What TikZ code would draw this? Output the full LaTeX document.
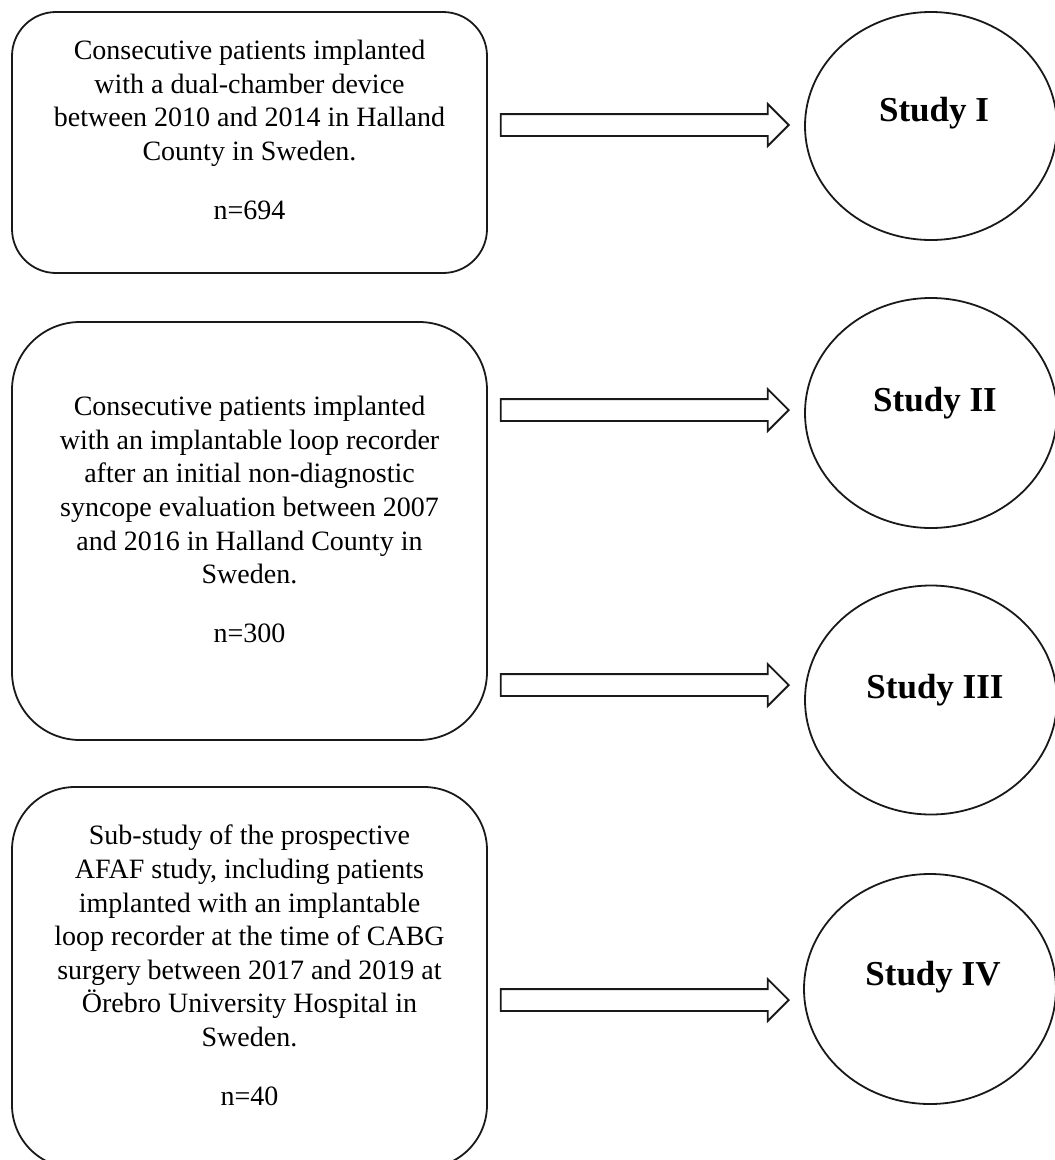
\documentclass[tikz,border=0pt]{standalone}
\usepackage{fontspec}
\setmainfont{Liberation Serif}
\usetikzlibrary{shapes.geometric,shapes.arrows}

\tikzset{
  cohort/.style={draw=black!90, line width=1.8pt, rectangle, inner sep=0pt,
                 minimum width=475pt},
  cohorttext/.style={anchor=north, inner sep=0pt, align=center,
                     font=\fontsize{28}{33.6}\selectfont},
  studybox/.style={draw=black!90, line width=1.8pt, ellipse, inner sep=0pt,
                   minimum width=252pt},
  studylabel/.style={inner sep=0pt, font=\fontsize{35}{40}\selectfont\bfseries},
  blockarrow/.style={draw=black!90, line width=1.8pt, fill=white, single arrow,
                     single arrow head extend=10pt, inner sep=10pt,
                     minimum width=40pt, minimum height=288pt, anchor=tip}
}

\begin{document}
\begin{tikzpicture}[x=1pt, y=-1pt]
  \useasboundingbox (0,0) rectangle (1055,1160);
  \clip (0,0) rectangle (1055,1160);

  % cohort boxes
  \node[cohort, rounded corners=44pt, minimum height=261pt] (c1) at (249.5,142.5) {};
  \node[cohort, rounded corners=68pt, minimum height=418pt] (c2) at (249.5,531) {};
  \node[cohort, rounded corners=63pt, minimum height=381pt] (c3) at (249.5,977.5) {};

  \node[cohorttext] (t1) at (249.5,40) {Consecutive patients implanted\\
    with a dual-chamber device\\
    between 2010 and 2014 in Halland\\
    County in Sweden.\\[25pt]
    n=694};
  \node[cohorttext] (t2) at (249.5,396) {Consecutive patients implanted\\
    with an implantable loop recorder\\
    after an initial non-diagnostic\\
    syncope evaluation between 2007\\
    and 2016 in Halland County in\\
    Sweden.\\[25pt]
    n=300};
  \node[cohorttext] (t3) at (249.5,825) {Sub-study of the prospective\\
    AFAF study, including patients\\
    implanted with an implantable\\
    loop recorder at the time of CABG\\
    surgery between 2017 and 2019 at\\
    Örebro University Hospital in\\
    Sweden.\\[25pt]
    n=40};

  % studies
  \node[studybox, minimum height=228pt] (s1) at (931,126) {};
  \node[studybox, minimum height=230pt] (s2) at (931,413) {};
  \node[studybox, minimum height=229pt] (s3) at (931,700) {};
  \node[studybox, minimum height=230pt] (s4) at (930,989) {};

  \node[studylabel] (l1) at (934,113) {Study I};
  \node[studylabel] (l2) at (935,403) {Study II};
  \node[studylabel] (l3) at (935,690) {Study III};
  \node[studylabel] (l4) at (933,977) {Study IV};

  % block arrows from cohorts to studies
  \node[blockarrow] (a1) at (790,125) {};
  \node[blockarrow] (a2) at (790,410) {};
  \node[blockarrow] (a3) at (790,685) {};
  \node[blockarrow] (a4) at (790,1000) {};
\end{tikzpicture}
\end{document}
